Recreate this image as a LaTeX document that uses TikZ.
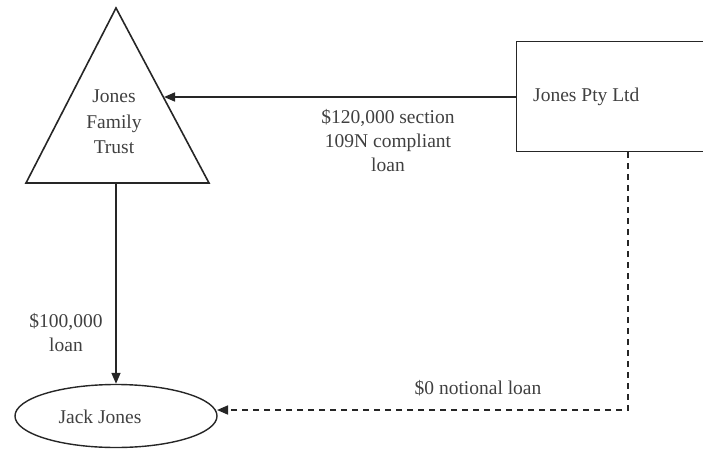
\documentclass[tikz,border=0pt]{standalone}
\usepackage{fontspec}
\setmainfont{Liberation Serif}
\usetikzlibrary{arrows.meta,shapes.geometric}
\begin{document}
\begin{tikzpicture}[x=1pt,y=-1pt,
  lbl/.style={text=black!75,font=\fontsize{19.5}{24}\selectfont,align=center,inner sep=0pt},
  edge/.style={line width=1.6pt,draw=black!85},
  flow/.style={edge,-{Triangle[length=11pt,width=9pt]}},
  notional/.style={flow,dash pattern=on 6pt off 5pt}]
\useasboundingbox (0,0) rectangle (703,452);
\begin{scope}
\clip (0,0) rectangle (703,452);
% entities
\coordinate (apex) at (116,8);
\coordinate (bl) at (26,183);
\coordinate (br) at (209,183);
\draw[edge,line join=miter] (apex) -- (br) -- (bl) -- cycle;
\node[lbl,font=\fontsize{19.5}{25.5}\selectfont] (trust) at (114,122) {Jones\\Family\\Trust};
\node[draw,line width=1.4pt,draw=black!85,minimum width=200pt,minimum height=110pt,anchor=north west,inner sep=0pt] (co) at (516,41) {};
\node[lbl,anchor=west] (coname) at (533,97) {Jones Pty Ltd};
\node[ellipse,draw,line width=1.4pt,draw=black!85,minimum width=202pt,minimum height=63pt,inner sep=0pt] (jack) at (116,416) {};
\node[lbl] (jackname) at (100,417) {Jack Jones};
% connector end points on the shapes
\coordinate (trustin) at (164,97);
\coordinate (trustout) at (116,183);
\coordinate (codown) at (628,152);
\coordinate (corner) at (628,410);
\coordinate (jackin) at (217,410);
% loans
\draw[flow] (co.west |- trustin) -- (trustin);
\draw[flow] (trustout) -- (jack.north);
\draw[notional] (codown) -- (corner) -- (jackin);
% labels
\node[lbl] (l1) at (388,141) {\$120,000 section\\109N compliant\\loan};
\node[lbl] (l2) at (66,333) {\$100,000\\loan};
\node[lbl] (l3) at (478,388) {\$0 notional loan};
\end{scope}
\end{tikzpicture}
\end{document}
